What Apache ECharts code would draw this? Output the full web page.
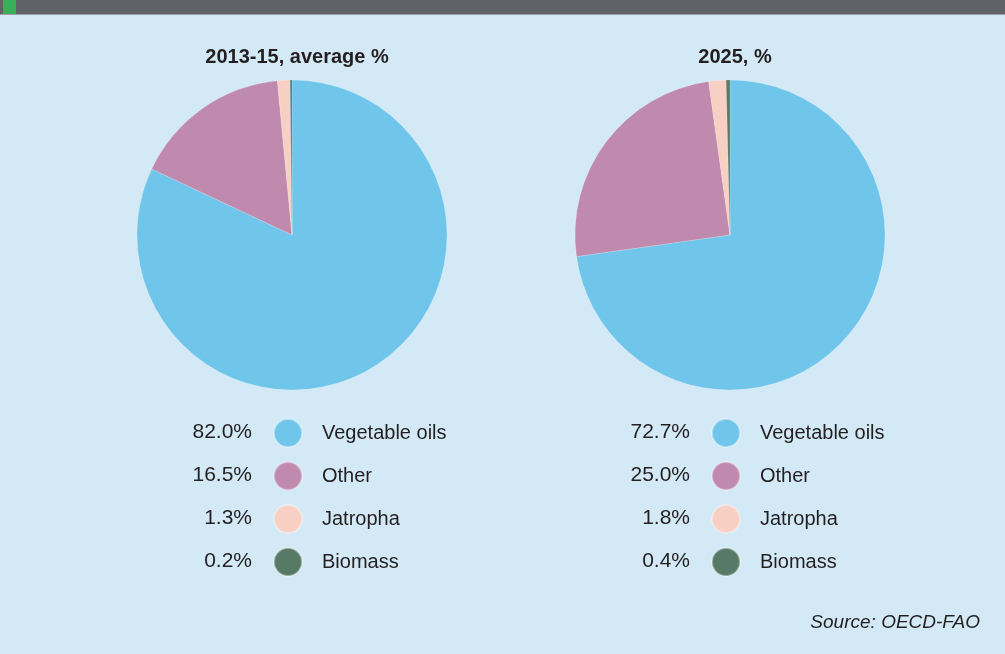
<!DOCTYPE html>
<html>
<head>
<meta charset="utf-8">
<script src="https://cdn.jsdelivr.net/npm/echarts@6/dist/echarts.min.js"></script>
<style>
  html, body { margin: 0; padding: 0; background: #ffffff; }
  #main { width: 1005px; height: 654px; }
</style>
</head>
<body>
<div id="main"></div>
<script>
// data
var categories = ['Vegetable oils', 'Other', 'Jatropha', 'Biomass'];
var share2013 = [82.0, 16.5, 1.3, 0.2];
var share2025 = [72.7, 25.0, 1.8, 0.4];
var pieTitles = ['2013-15, average %', '2025, %'];
var colors = ['#6fc6ea', '#c08aae', '#f8cfc3', '#567a66'];

var FONT = '"Liberation Sans Narrow", "Liberation Sans", Arial, sans-serif';
var myChart = echarts.init(document.getElementById('main'));

function pieSeries(vals, cx) {
  return {
    type: 'pie',
    center: [cx, 235],
    radius: [0, 155],
    startAngle: 90,
    clockwise: true,
    silent: true,
    label: { show: false },
    labelLine: { show: false },
    itemStyle: { borderColor: 'rgba(255,255,255,0.35)', borderWidth: 0.5 },
    data: categories.map(function (c, i) {
      return { name: c, value: vals[i], itemStyle: { color: colors[i] } };
    })
  };
}

function legendFor(left) {
  return {
    left: left,
    top: 413,
    orient: 'vertical',
    icon: 'circle',
    itemWidth: 28,
    itemHeight: 28,
    itemGap: 13,
    selectedMode: false,
    data: categories,
    textStyle: { fontFamily: FONT, fontSize: 20, color: '#231f20', padding: [0, 0, 0, 15] }
  };
}

// percentage texts, right aligned next to the legend circles
var graphics = [
  { type: 'rect', left: 0, top: 0, shape: { width: 1005, height: 14 }, style: { fill: '#5f6367' } },
  { type: 'rect', left: 3, top: 0, shape: { width: 13, height: 14 }, style: { fill: '#3aaf5a' } },
  { type: 'rect', left: 0, top: 14, shape: { width: 1005, height: 1 }, style: { fill: '#9aa3aa' } }
];
[[share2013, 252], [share2025, 690]].forEach(function (p) {
  p[0].forEach(function (v, i) {
    graphics.push({
      type: 'text',
      x: p[1],
      y: 432 + i * 43,
      style: {
        text: v.toFixed(1) + '%',
        align: 'right',
        verticalAlign: 'middle',
        font: '21px ' + FONT,
        fill: '#231f20'
      }
    });
  });
});

var option = {
  backgroundColor: '#d3e9f6',
  color: colors,
  animation: false,
  title: [
    { text: pieTitles[0], left: 292, top: 42, textAlign: 'center',
      textStyle: { fontFamily: FONT, fontSize: 20, fontWeight: 'bold', color: '#231f20' } },
    { text: pieTitles[1], left: 730, top: 42, textAlign: 'center',
      textStyle: { fontFamily: FONT, fontSize: 20, fontWeight: 'bold', color: '#231f20' } },
    { text: 'Source: OECD-FAO', right: 20, top: 608,
      textStyle: { fontFamily: '"Liberation Sans", Arial, sans-serif', fontSize: 19, fontStyle: 'italic', fontWeight: 'normal', color: '#231f20' } }
  ],
  legend: [legendFor(268), legendFor(706)],
  graphic: graphics,
  series: [pieSeries(share2013, 292), pieSeries(share2025, 730)]
};

myChart.setOption(option);
window.addEventListener('resize', myChart.resize);
</script>
</body>
</html>
